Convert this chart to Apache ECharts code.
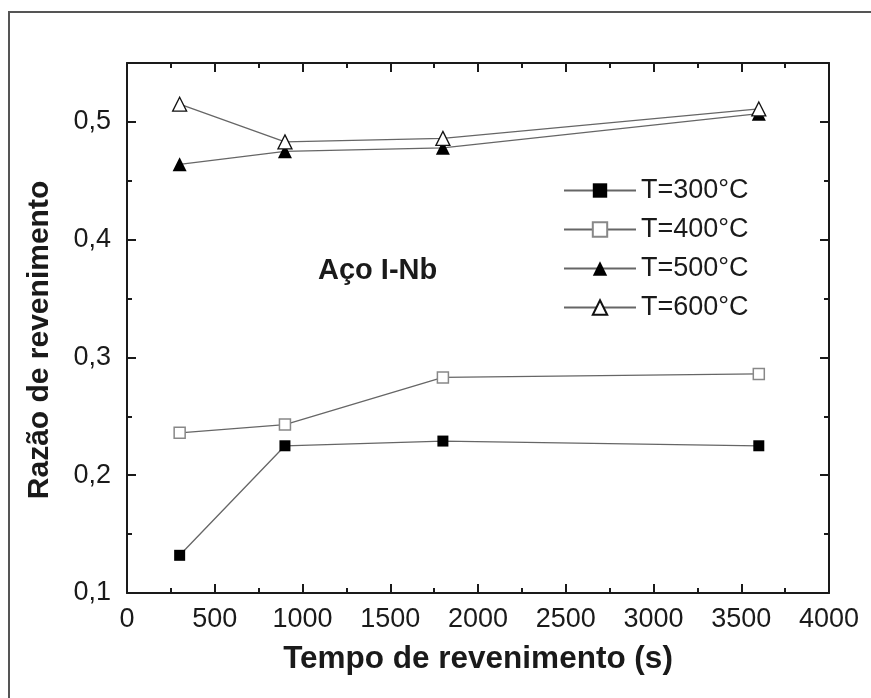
<!DOCTYPE html>
<html>
<head>
<meta charset="utf-8">
<script src="https://cdn.jsdelivr.net/npm/echarts@6/dist/echarts.min.js"></script>
<style>
  html, body { margin: 0; padding: 0; background: #fff; }
  #main { width: 871px; height: 698px; }
</style>
</head>
<body>
<div id="main"></div>
<script>
// tempos de revenimento (s)
var tempos = [300, 900, 1800, 3600]
var nomes = ['T=300°C', 'T=400°C', 'T=500°C', 'T=600°C']
// razão de revenimento
var t300 = [0.132, 0.225, 0.229, 0.225]
var t400 = [0.236, 0.243, 0.283, 0.286]
var t500 = [0.464, 0.475, 0.478, 0.507]
var t600 = [0.515, 0.483, 0.486, 0.511]
var xTicks = [0, 500, 1000, 1500, 2000, 2500, 3000, 3500, 4000]
var yTicks = [0.1, 0.2, 0.3, 0.4, 0.5]

var fonte = '"Liberation Sans", Arial, sans-serif'

function pares(vals) {
  return tempos.map(function (t, i) { return [t, vals[i]] })
}

function eixo(pos, lbl) {
  return {
    type: 'value',
    position: pos,
    axisLine: { show: true, onZero: false, lineStyle: { color: '#1a1a1a', width: 2 } },
    axisTick: { show: true, inside: true, length: 9, lineStyle: { color: '#1a1a1a', width: 2 } },
    minorTick: { show: true, splitNumber: 2, length: 5, lineStyle: { color: '#1a1a1a', width: 2 } },
    splitLine: { show: false },
    axisLabel: { show: lbl }
  }
}

var xBottom = eixo('bottom', true)
xBottom.min = 0
xBottom.max = 4000
xBottom.interval = 500
xBottom.axisLabel = {
  show: true, fontFamily: fonte, fontSize: 27, color: '#1a1a1a', margin: 13,
  formatter: function (v) { return xTicks.indexOf(v) >= 0 ? String(v) : '' }
}
xBottom.name = 'Tempo de revenimento (s)'
xBottom.nameLocation = 'middle'
xBottom.nameGap = 50
xBottom.nameTextStyle = { fontFamily: fonte, fontSize: 31.5, fontWeight: 'bold', color: '#1a1a1a' }

var xTop = eixo('top', false)
xTop.min = 0
xTop.max = 4000
xTop.interval = 500

var yLeft = eixo('left', true)
yLeft.min = 0.1
yLeft.max = 0.55
yLeft.interval = 0.1
yLeft.axisLabel = {
  show: true, fontFamily: fonte, fontSize: 27, color: '#1a1a1a', margin: 16,
  showMaxLabel: false,
  formatter: function (v) {
    var ok = yTicks.some(function (t) { return Math.abs(t - v) < 1e-6 })
    return ok ? v.toFixed(1).replace('.', ',') : ''
  }
}

var yRight = eixo('right', false)
yRight.min = 0.1
yRight.max = 0.55
yRight.interval = 0.1

function serie(nome, vals, simbolo, tam, estilo) {
  return {
    name: nome,
    type: 'line',
    xAxisIndex: 0,
    yAxisIndex: 0,
    data: pares(vals),
    symbol: simbolo,
    symbolSize: tam,
    showAllSymbol: true,
    lineStyle: { color: '#666', width: 1.3 },
    itemStyle: estilo,
    emphasis: { disabled: true },
    z: 3
  }
}

var chart = echarts.init(document.getElementById('main'))
chart.setOption({
  backgroundColor: '#fff',
  animation: false,
  grid: { left: 127, top: 63, right: 42, bottom: 105 },
  xAxis: [xBottom, xTop],
  yAxis: [yLeft, yRight],
  legend: {
    orient: 'vertical',
    left: 558,
    top: 172,
    itemWidth: 72,
    itemHeight: 18,
    itemGap: 12,
    textStyle: { fontFamily: fonte, fontSize: 27, color: '#1a1a1a' },
    data: nomes
  },
  graphic: [
    {
      type: 'rect',
      shape: { x: 9, y: 12, width: 900, height: 720 },
      style: { fill: 'none', stroke: '#555', lineWidth: 2 },
      silent: true
    },
    {
      type: 'text',
      left: 318,
      top: 256,
      style: { text: 'Aço I-Nb', font: 'bold 29px ' + fonte, fill: '#1a1a1a' }
    },
    {
      type: 'text',
      x: 40,
      y: 340,
      rotation: Math.PI / 2,
      style: {
        text: 'Razão de revenimento', font: 'bold 30px ' + fonte, fill: '#1a1a1a',
        align: 'center', verticalAlign: 'middle'
      }
    }
  ],
  series: [
    serie(nomes[0], t300, 'rect', 11, { color: '#000' }),
    serie(nomes[1], t400, 'rect', 11, { color: '#fff', borderColor: '#888', borderWidth: 1.5 }),
    serie(nomes[2], t500, 'triangle', 14, { color: '#000' }),
    serie(nomes[3], t600, 'triangle', 14, { color: '#fff', borderColor: '#111', borderWidth: 1.3 })
  ]
})
</script>
</body>
</html>
